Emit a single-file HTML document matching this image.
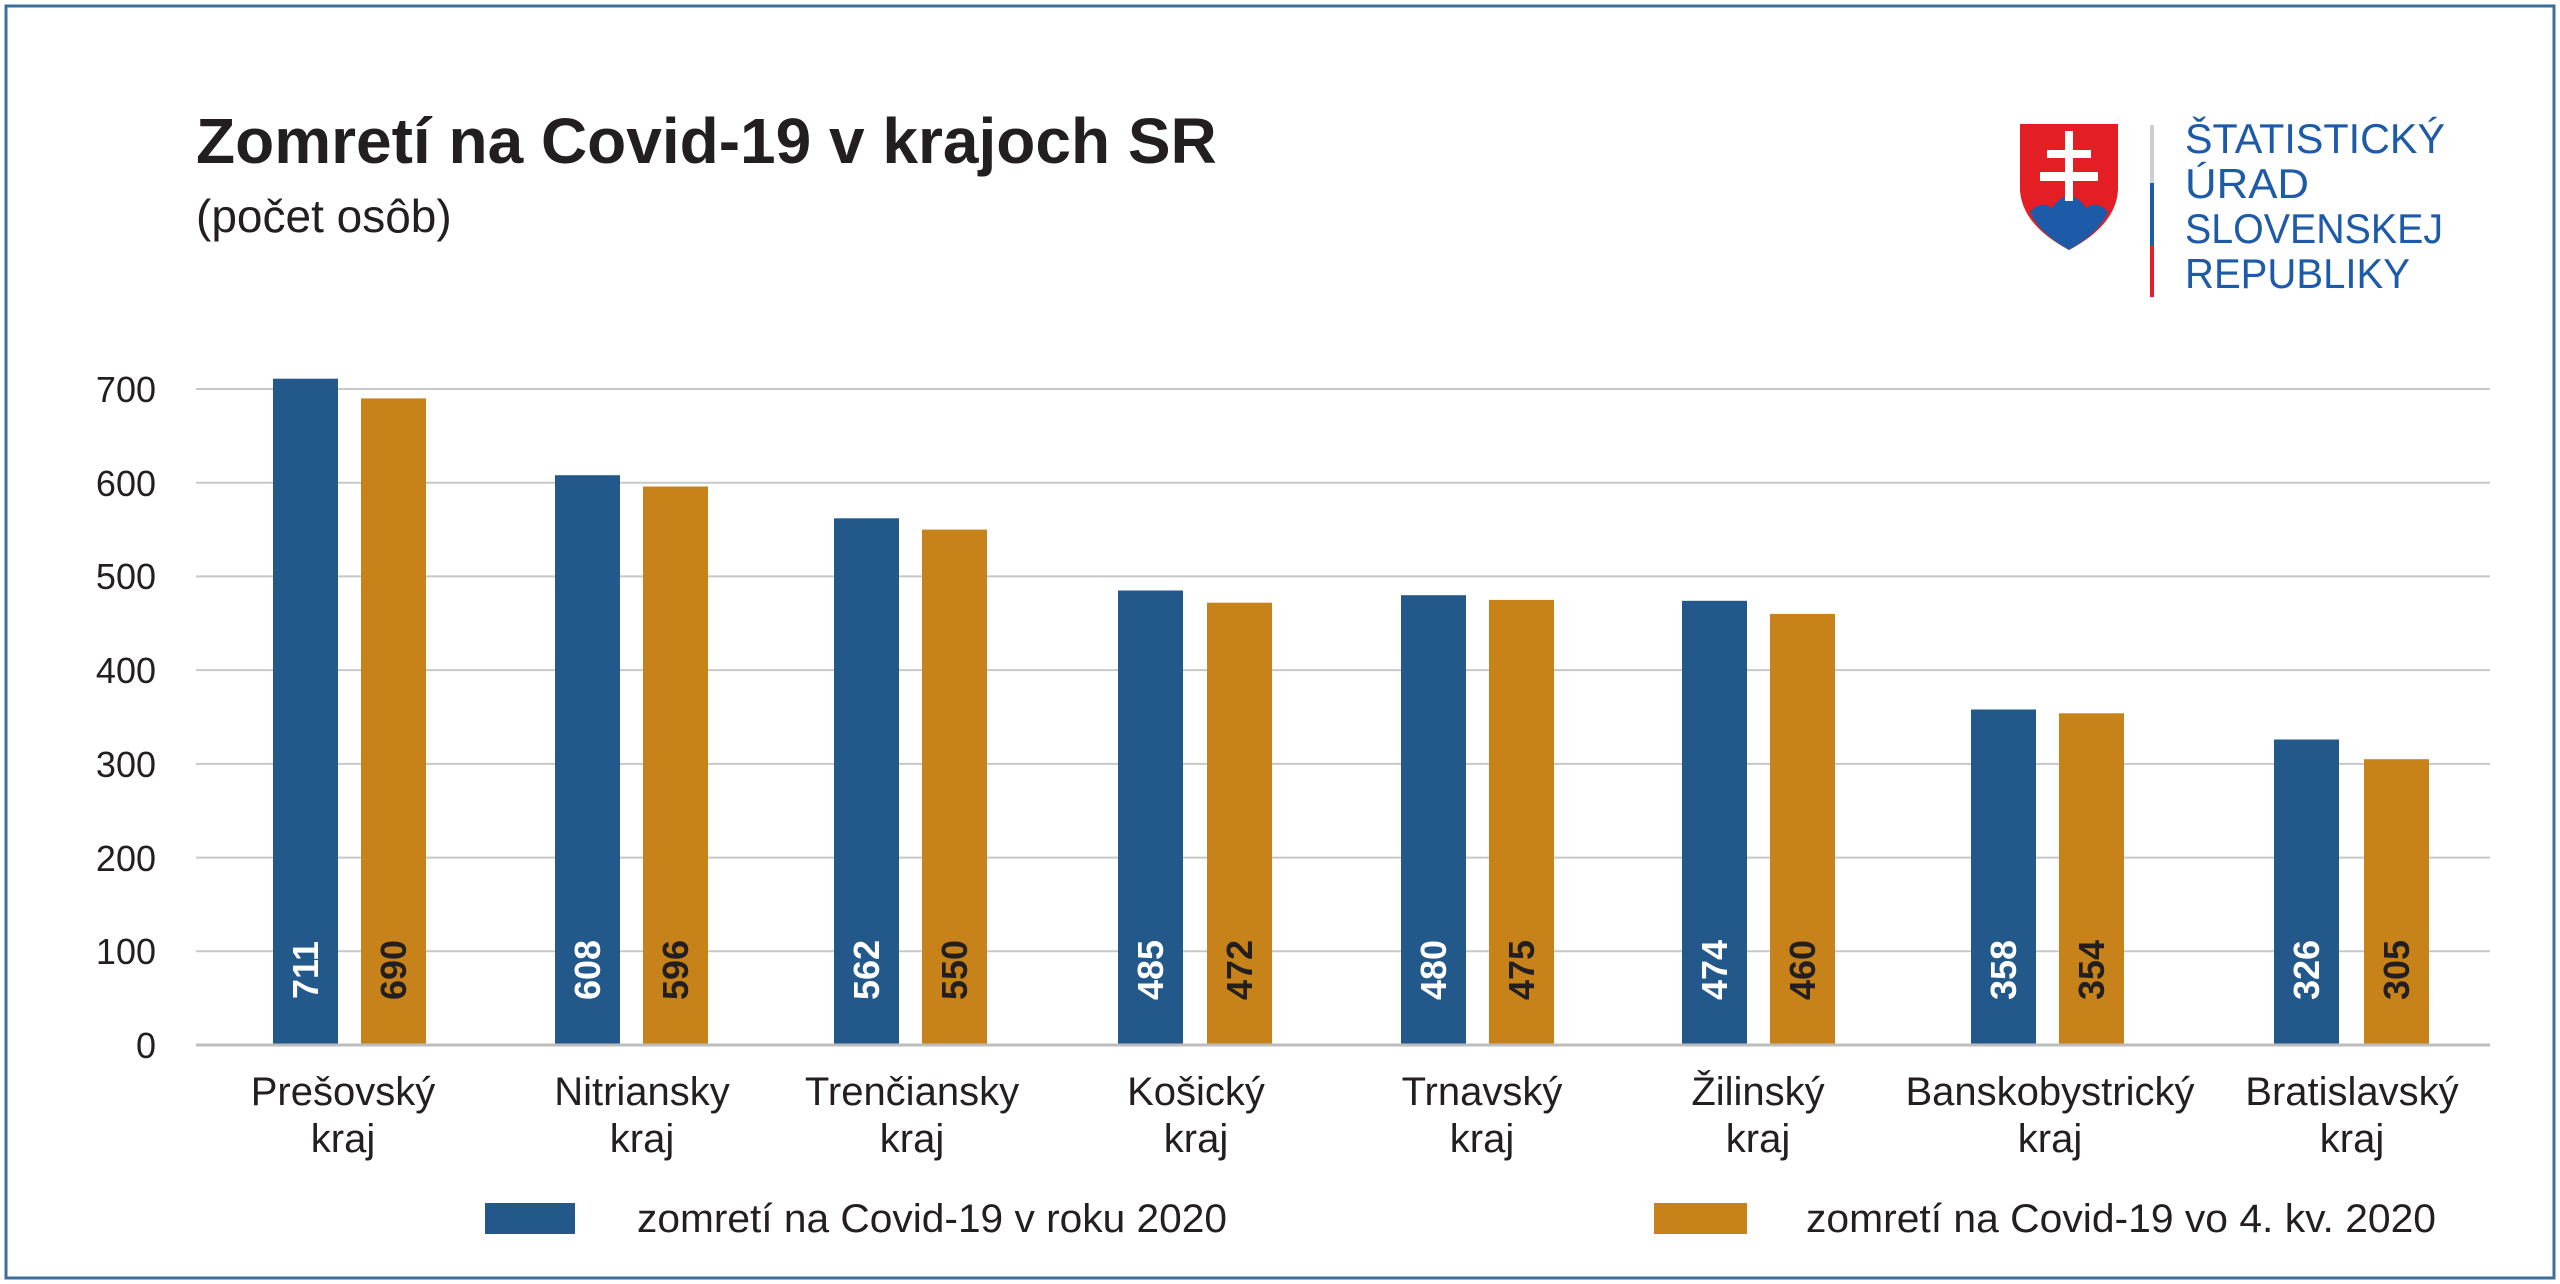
<!DOCTYPE html>
<html><head><meta charset="utf-8"><style>
html,body{margin:0;padding:0;background:#fff}
svg{display:block}
text{font-family:"Liberation Sans",sans-serif}
</style></head><body>
<svg width="2560" height="1284" viewBox="0 0 2560 1284" xmlns="http://www.w3.org/2000/svg">
<rect x="0" y="0" width="2560" height="1284" fill="#fff"/>
<rect x="6" y="6" width="2548" height="1272" fill="none" stroke="#3f6e9c" stroke-width="3"/>
<text x="196" y="163" font-size="64" font-weight="bold" fill="#231f20">Zomretí na Covid-19 v krajoch SR</text>
<text x="196" y="232" font-size="46" fill="#231f20">(počet osôb)</text>
<path d="M2020 124 H2118 V190 Q2116 225 2069 250 Q2022 225 2020 190 Z" fill="#e31e24"/>
<path d="M2030 212 Q2040 200 2052 208 Q2060 196 2069 196 Q2078 196 2086 208 Q2098 200 2108 212 Q2100 232 2069 250 Q2038 232 2030 212 Z" fill="#1d5aa8"/>
<rect x="2065" y="131" width="8" height="70" fill="#fff"/>
<rect x="2047" y="150" width="44" height="8" fill="#fff"/>
<rect x="2040" y="172" width="58" height="9" fill="#fff"/>
<rect x="2150" y="125" width="4" height="58" fill="#cfcfcf"/>
<rect x="2150" y="183" width="4" height="62" fill="#1d5aa8"/>
<rect x="2150" y="245" width="4" height="52" fill="#e31e24"/>
<g font-size="42" fill="#1d5aa8">
<text x="2185" y="153" textLength="260" lengthAdjust="spacingAndGlyphs">ŠTATISTICKÝ</text>
<text x="2185" y="198" textLength="124" lengthAdjust="spacingAndGlyphs">ÚRAD</text>
<text x="2185" y="243" textLength="258" lengthAdjust="spacingAndGlyphs">SLOVENSKEJ</text>
<text x="2185" y="288" textLength="225" lengthAdjust="spacingAndGlyphs">REPUBLIKY</text>
</g>
<g stroke="#c8c8c8" stroke-width="2">
<line x1="196" x2="2490" y1="389" y2="389"/>
<line x1="196" x2="2490" y1="482.7" y2="482.7"/>
<line x1="196" x2="2490" y1="576.4" y2="576.4"/>
<line x1="196" x2="2490" y1="670.1" y2="670.1"/>
<line x1="196" x2="2490" y1="763.9" y2="763.9"/>
<line x1="196" x2="2490" y1="857.6" y2="857.6"/>
<line x1="196" x2="2490" y1="951.3" y2="951.3"/>
</g>
<g font-size="36" fill="#231f20" text-anchor="end">
<text x="156" y="402">700</text><text x="156" y="496">600</text><text x="156" y="589">500</text>
<text x="156" y="683">400</text><text x="156" y="777">300</text><text x="156" y="871">200</text>
<text x="156" y="964">100</text><text x="156" y="1058">0</text>
</g>
<g fill="#22588a">
<rect x="273" y="378.7" width="65" height="666.3"/>
<rect x="555" y="475.2" width="65" height="569.8"/>
<rect x="834" y="518.3" width="65" height="526.7"/>
<rect x="1118" y="590.5" width="65" height="454.5"/>
<rect x="1401" y="595.2" width="65" height="449.8"/>
<rect x="1682" y="600.8" width="65" height="444.2"/>
<rect x="1971" y="709.5" width="65" height="335.5"/>
<rect x="2274" y="739.5" width="65" height="305.5"/>
</g>
<g fill="#c78319">
<rect x="361" y="398.4" width="65" height="646.6"/>
<rect x="643" y="486.5" width="65" height="558.5"/>
<rect x="922" y="529.6" width="65" height="515.4"/>
<rect x="1207" y="602.7" width="65" height="442.3"/>
<rect x="1489" y="599.9" width="65" height="445.1"/>
<rect x="1770" y="613.9" width="65" height="431.1"/>
<rect x="2059" y="713.3" width="65" height="331.7"/>
<rect x="2364" y="759.2" width="65" height="285.8"/>
</g>
<line x1="196" x2="2490" y1="1045" y2="1045" stroke="#bdbdbd" stroke-width="3"/>
<g font-size="36" font-weight="bold" text-anchor="middle">
<g fill="#fff">
<text transform="translate(318,970) rotate(-90)">711</text>
<text transform="translate(600,970) rotate(-90)">608</text>
<text transform="translate(879,970) rotate(-90)">562</text>
<text transform="translate(1163,970) rotate(-90)">485</text>
<text transform="translate(1446,970) rotate(-90)">480</text>
<text transform="translate(1727,970) rotate(-90)">474</text>
<text transform="translate(2016,970) rotate(-90)">358</text>
<text transform="translate(2319,970) rotate(-90)">326</text>
</g>
<g fill="#231f20">
<text transform="translate(406,970) rotate(-90)">690</text>
<text transform="translate(688,970) rotate(-90)">596</text>
<text transform="translate(967,970) rotate(-90)">550</text>
<text transform="translate(1252,970) rotate(-90)">472</text>
<text transform="translate(1534,970) rotate(-90)">475</text>
<text transform="translate(1815,970) rotate(-90)">460</text>
<text transform="translate(2104,970) rotate(-90)">354</text>
<text transform="translate(2409,970) rotate(-90)">305</text>
</g>
</g>
<g font-size="40" fill="#231f20" text-anchor="middle">
<text x="343" y="1105">Prešovský</text><text x="343" y="1152">kraj</text>
<text x="642" y="1105">Nitriansky</text><text x="642" y="1152">kraj</text>
<text x="912" y="1105">Trenčiansky</text><text x="912" y="1152">kraj</text>
<text x="1196" y="1105">Košický</text><text x="1196" y="1152">kraj</text>
<text x="1482" y="1105">Trnavský</text><text x="1482" y="1152">kraj</text>
<text x="1758" y="1105">Žilinský</text><text x="1758" y="1152">kraj</text>
<text x="2050" y="1105">Banskobystrický</text><text x="2050" y="1152">kraj</text>
<text x="2352" y="1105">Bratislavský</text><text x="2352" y="1152">kraj</text>
</g>
<rect x="485" y="1203" width="90" height="31" fill="#22588a"/>
<text x="637" y="1232" font-size="40" fill="#231f20" textLength="590" lengthAdjust="spacingAndGlyphs">zomretí na Covid-19 v roku 2020</text>
<rect x="1654" y="1203" width="93" height="31" fill="#c78319"/>
<text x="1806" y="1232" font-size="40" fill="#231f20" textLength="630" lengthAdjust="spacingAndGlyphs">zomretí na Covid-19 vo 4. kv. 2020</text>
</svg>
</body></html>
